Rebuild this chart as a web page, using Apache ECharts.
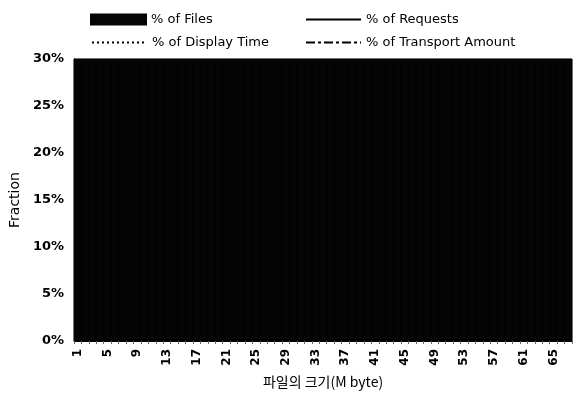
<!DOCTYPE html>
<html><head><meta charset="utf-8">
<script src="https://cdn.jsdelivr.net/npm/echarts@6/dist/echarts.min.js"></script>
<style>html,body{margin:0;padding:0;background:#fff}#c{width:576px;height:404px}</style>
</head><body><div id="c"></div>
<script>
// Categories: file size in MB (1..67)
const categories = [];
for (let i = 1; i <= 67; i++) categories.push(String(i));
// % of Files: the whole plot area is solid dark, i.e. every bar reaches the 30% top
const pctFiles = [30,30,30,30,30,30,30,30,30,30,30,30,30,30,30,30,30,30,30,30,30,30,30,30,30,30,30,30,30,30,30,30,30,30,30,30,30,30,30,30,30,30,30,30,30,30,30,30,30,30,30,30,30,30,30,30,30,30,30,30,30,30,30,30,30,30,30];
// Line series cannot be read in the scan (hidden by the dark fill)
const pctRequests = [];
const pctDisplayTime = [];
const pctTransport = [];
const yTicks = [0, 5, 10, 15, 20, 25, 30];

const font = 'DejaVu Sans, sans-serif';
const chart = echarts.init(document.getElementById('c'), null, {renderer: 'canvas'});
const legendText = {color: '#000', fontSize: 13, fontFamily: font};
function lg(name, left, top, isLine) {
  const o = {data: [name], left: left, top: top, itemWidth: 55, itemHeight: 10,
    itemGap: 4, textStyle: legendText, padding: 0, selectedMode: false};
  if (isLine) {
    o.itemStyle = {color: 'rgba(0,0,0,0)', borderColor: 'rgba(0,0,0,0)', borderWidth: 0};
  } else {
    o.icon = 'rect';
  }
  return o;
}
chart.setOption({
  animation: false,
  backgroundColor: '#fff',
  textStyle: {fontFamily: font},
  legend: [
    lg('% of Files', 90, 13, false),
    lg('% of Requests', 305, 13, true),
    lg('% of Display Time', 91, 36, true),
    lg('% of Transport Amount', 305, 36, true)
  ],
  grid: {left: 74, right: 4, top: 59, bottom: 63, show: true, borderColor: '#050505', borderWidth: 1, backgroundColor: '#050505'},
  xAxis: {
    type: 'category', data: categories, boundaryGap: true,
    name: '파일의 크기(M byte)', nameLocation: 'middle', nameGap: 34,
    nameTextStyle: {fontFamily: 'Noto Sans CJK KR, sans-serif', fontSize: 14, color: '#000'},
    axisLine: {lineStyle: {color: '#000'}},
    axisTick: {show: true, length: 3, interval: 0, lineStyle: {color: '#666'}},
    axisLabel: {interval: 3, rotate: 90, color: '#000', fontSize: 12, fontWeight: 'bold', margin: 8, fontFamily: font}
  },
  yAxis: {
    type: 'value', min: yTicks[0], max: yTicks[yTicks.length - 1], interval: 5,
    name: 'Fraction', nameLocation: 'middle', nameGap: 50, nameRotate: 90,
    nameTextStyle: {fontSize: 14, color: '#000', fontFamily: font},
    axisLine: {show: true, lineStyle: {color: '#000'}},
    axisTick: {show: false},
    splitLine: {show: false},
    axisLabel: {formatter: '{value}%', color: '#000', fontSize: 13, fontWeight: 'bold', margin: 10, fontFamily: font}
  },
  series: [
    {name: '% of Files', type: 'bar', data: pctFiles, barCategoryGap: '0%', itemStyle: {color: '#050505', borderColor: '#050505', borderWidth: 0.5}},
    {name: '% of Requests', type: 'line', data: pctRequests, symbol: 'none', lineStyle: {color: '#000', width: 1.5, type: 'solid'}, itemStyle: {color: '#000'}},
    {name: '% of Display Time', type: 'line', data: pctDisplayTime, symbol: 'none', lineStyle: {color: '#000', width: 1.5, type: [2, 3]}, itemStyle: {color: '#000'}},
    {name: '% of Transport Amount', type: 'line', data: pctTransport, symbol: 'none', lineStyle: {color: '#000', width: 1.5, type: [9, 3, 3, 3]}, itemStyle: {color: '#000'}}
  ]
});
</script></body></html>
